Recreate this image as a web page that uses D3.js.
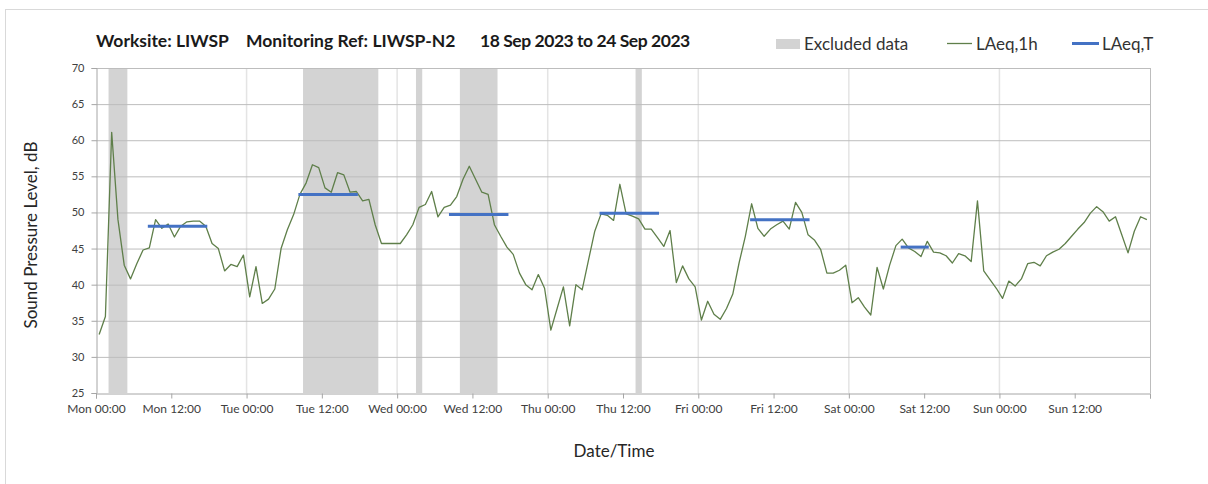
<!DOCTYPE html>
<html>
<head>
<meta charset="utf-8">
<script src="https://cdn.jsdelivr.net/npm/d3@7"></script>
<style>
  html, body { margin: 0; padding: 0; background: #fff; }
  svg { display: block; font-family: Lato, "Open Sans", sans-serif; }
</style>
</head>
<body>
<svg id="chart" width="1208" height="484"></svg>
<script>
// --- Data ---
// hourly LAeq,1h from Mon 18 Sep 2023 00:00, one value per hour
const laeq1h = [
  33.1, 35.6, 61.1, 49.0, 42.7, 40.8, 42.9, 44.8, 45.1, 49.0, 47.8, 48.4,  // Mon
  46.6, 48.1, 48.7, 48.8, 48.8, 48.1, 45.7, 45.0, 41.9, 42.8, 42.5, 44.1,
  38.3, 42.5, 37.4, 38.0, 39.4, 45.0, 47.6, 49.7, 52.5, 54.1, 56.6, 56.2,  // Tue
  53.4, 52.8, 55.5, 55.2, 52.8, 52.9, 51.6, 51.8, 48.3, 45.7, 45.7, 45.7,
  45.7, 46.9, 48.3, 50.7, 51.1, 52.9, 49.4, 50.7, 51.0, 52.2, 54.6, 56.4,  // Wed
  54.6, 52.8, 52.5, 48.3, 46.7, 45.2, 44.2, 41.6, 40.0, 39.3, 41.4, 39.5,
  33.7, 36.7, 39.7, 34.3, 40.0, 39.3, 43.4, 47.4, 49.8, 49.6, 48.9, 53.9,  // Thu
  49.8, 49.5, 49.1, 47.7, 47.7, 46.5, 45.3, 47.5, 40.3, 42.6, 40.8, 39.7,
  35.1, 37.7, 35.9, 35.2, 36.7, 38.7, 43.0, 46.7, 51.2, 47.8, 46.7, 47.7,  // Fri
  48.3, 48.8, 47.7, 51.4, 50.0, 46.9, 46.2, 44.9, 41.6, 41.6, 42.0, 42.7,
  37.5, 38.2, 36.9, 35.8, 42.4, 39.4, 42.7, 45.4, 46.3, 45.1, 44.6, 43.9,  // Sat
  46.0, 44.5, 44.4, 44.0, 43.0, 44.3, 44.0, 43.2, 51.6, 41.9, 40.7, 39.5,
  38.1, 40.5, 39.8, 40.8, 42.9, 43.1, 42.6, 44.0, 44.5, 44.9, 45.7, 46.7,  // Sun
  47.7, 48.6, 49.9, 50.8, 50.1, 48.8, 49.4, 46.9, 44.4, 47.4, 49.4, 49.0
];

// LAeq,T periods
const periodStart = ['2023-09-18 08:00', '2023-09-19 08:00', '2023-09-20 08:00', '2023-09-21 08:00', '2023-09-22 08:00', '2023-09-23 08:00'];
const periodEnd   = ['2023-09-18 18:00', '2023-09-19 18:00', '2023-09-20 18:00', '2023-09-21 18:00', '2023-09-22 18:00', '2023-09-23 13:00'];
const laeqT = [48.1, 52.5, 49.7, 49.9, 49.0, 45.2];

// excluded data windows
const excludedStart = ['2023-09-18 02:00', '2023-09-19 09:00', '2023-09-20 03:00', '2023-09-20 10:00', '2023-09-21 14:00'];
const excludedEnd   = ['2023-09-18 05:00', '2023-09-19 21:00', '2023-09-20 04:00', '2023-09-20 16:00', '2023-09-21 15:00'];

const yTicks = [25, 30, 35, 40, 45, 50, 55, 60, 65, 70];

const titleParts = ['Worksite: LIWSP', 'Monitoring Ref: LIWSP-N2', '18 Sep 2023 to 24 Sep 2023'];
const legendLabels = ['Excluded data', 'LAeq,1h', 'LAeq,T'];

// --- Setup ---
const parse = d3.timeParse('%Y-%m-%d %H:%M');
const startTime = parse('2023-09-18 00:00');
const endTime = parse('2023-09-25 00:00');

const margin = { left: 96, right: 58, top: 68, bottom: 91 };
const width = 1208, height = 484;

const svg = d3.select('#chart');

const x = d3.scaleTime()
  .domain([startTime, endTime])
  .range([margin.left, width - margin.right]);

const y = d3.scaleLinear()
  .domain([25, 70])
  .range([height - margin.bottom, margin.top]);

const points = laeq1h.map((v, i) => ({ t: d3.timeMinute.offset(d3.timeHour.offset(startTime, i), 30), v }));

// outer chart frame
svg.append('rect')
  .attr('x', 5.5).attr('y', 9.5)
  .attr('width', 1220).attr('height', 500)
  .attr('fill', 'none').attr('stroke', '#d9d9d9');

// --- Excluded bands ---
svg.append('g').selectAll('rect')
  .data(excludedStart.map((s, i) => ({ s: parse(s), e: parse(excludedEnd[i]) })))
  .enter().append('rect')
  .attr('x', d => x(d.s))
  .attr('width', d => x(d.e) - x(d.s))
  .attr('y', y(70))
  .attr('height', y(25) - y(70))
  .attr('fill', '#d3d3d3');

// --- Grid ---
const dayLines = d3.timeDay.range(d3.timeDay.offset(startTime, 1), endTime);
svg.append('g').selectAll('line')
  .data(dayLines)
  .enter().append('line')
  .attr('x1', d => x(d)).attr('x2', d => x(d))
  .attr('y1', y(70)).attr('y2', y(25))
  .attr('stroke', '#e4e4e4')
  .attr('stroke-width', 1.5);

svg.append('g').selectAll('line')
  .data(yTicks.filter(t => t > 25))
  .enter().append('line')
  .attr('x1', x(startTime)).attr('x2', x(endTime))
  .attr('y1', d => y(d) + 0.5).attr('y2', d => y(d) + 0.5)
  .attr('stroke', '#bdbdbd');

// right edge of plot area
svg.append('line')
  .attr('x1', x(endTime) + 0.5).attr('x2', x(endTime) + 0.5)
  .attr('y1', y(70)).attr('y2', y(25))
  .attr('stroke', '#bdbdbd');

// --- Axes ---
const xAxis = svg.append('g')
  .attr('transform', `translate(0,${y(25) + 0.5})`)
  .call(d3.axisBottom(x)
    .ticks(d3.timeHour.every(12))
    .tickSize(5)
    .tickPadding(6)
    .tickFormat(d => d < endTime ? d3.timeFormat('%a %H:%M')(d) : ''));

const yAxis = svg.append('g')
  .attr('transform', `translate(${x(startTime) + 0.5},0)`)
  .call(d3.axisLeft(y)
    .tickValues(yTicks)
    .tickSize(5)
    .tickPadding(7));

[xAxis, yAxis].forEach(a => {
  a.select('.domain').attr('stroke', '#a6a6a6');
  a.selectAll('.tick line').attr('stroke', '#a6a6a6');
  a.selectAll('.tick text')
    .attr('fill', '#404040')
    .style('font-family', 'Lato, sans-serif');
});
xAxis.selectAll('.tick text').attr('font-size', 12);
yAxis.selectAll('.tick text').attr('font-size', 11);

// --- Series ---
svg.append('path')
  .datum(points)
  .attr('fill', 'none')
  .attr('stroke', '#5f7f4a')
  .attr('stroke-width', 1.3)
  .attr('stroke-linejoin', 'round')
  .attr('d', d3.line().x(d => x(d.t)).y(d => y(d.v)));

svg.append('g').selectAll('line')
  .data(laeqT.map((v, i) => ({
    s: d3.timeMinute.offset(parse(periodStart[i]), 30),
    e: d3.timeMinute.offset(parse(periodEnd[i]), -30),
    v
  })))
  .enter().append('line')
  .attr('x1', d => x(d.s)).attr('x2', d => x(d.e))
  .attr('y1', d => y(d.v)).attr('y2', d => y(d.v))
  .attr('stroke', '#4472c4')
  .attr('stroke-width', 3)
  .attr('stroke-linecap', 'square');

// --- Titles ---
const titleX = [96, 246, 480];
svg.append('g').selectAll('text')
  .data(titleParts)
  .enter().append('text')
  .attr('x', (d, i) => titleX[i])
  .attr('y', 47)
  .attr('font-size', 17.5)
  .attr('font-weight', 'bold')
  .attr('letter-spacing', (d, i) => i === 2 ? -0.45 : 0)
  .attr('fill', '#1a1a1a')
  .text(d => d);

svg.append('text')
  .attr('transform', 'translate(37,235) rotate(-90)')
  .attr('text-anchor', 'middle')
  .attr('font-size', 17)
  .attr('fill', '#262626')
  .text('Sound Pressure Level, dB');

svg.append('text')
  .attr('x', 614)
  .attr('y', 457)
  .attr('text-anchor', 'middle')
  .attr('font-size', 17)
  .attr('fill', '#262626')
  .text('Date/Time');

// --- Legend ---
const legend = svg.append('g').attr('font-size', 17).attr('fill', '#333');
legend.append('rect').attr('x', 776).attr('y', 39).attr('width', 24).attr('height', 10).attr('fill', '#d3d3d3');
legend.append('line').attr('x1', 947).attr('x2', 972).attr('y1', 43.5).attr('y2', 43.5)
  .attr('stroke', '#5f7f4a').attr('stroke-width', 1.3);
legend.append('line').attr('x1', 1072).attr('x2', 1099).attr('y1', 43.5).attr('y2', 43.5)
  .attr('stroke', '#4472c4').attr('stroke-width', 3);
const legendX = [804, 976, 1102];
legend.selectAll('text')
  .data(legendLabels)
  .enter().append('text')
  .attr('x', (d, i) => legendX[i])
  .attr('y', 49.5)
  .text(d => d);
</script>
</body>
</html>
